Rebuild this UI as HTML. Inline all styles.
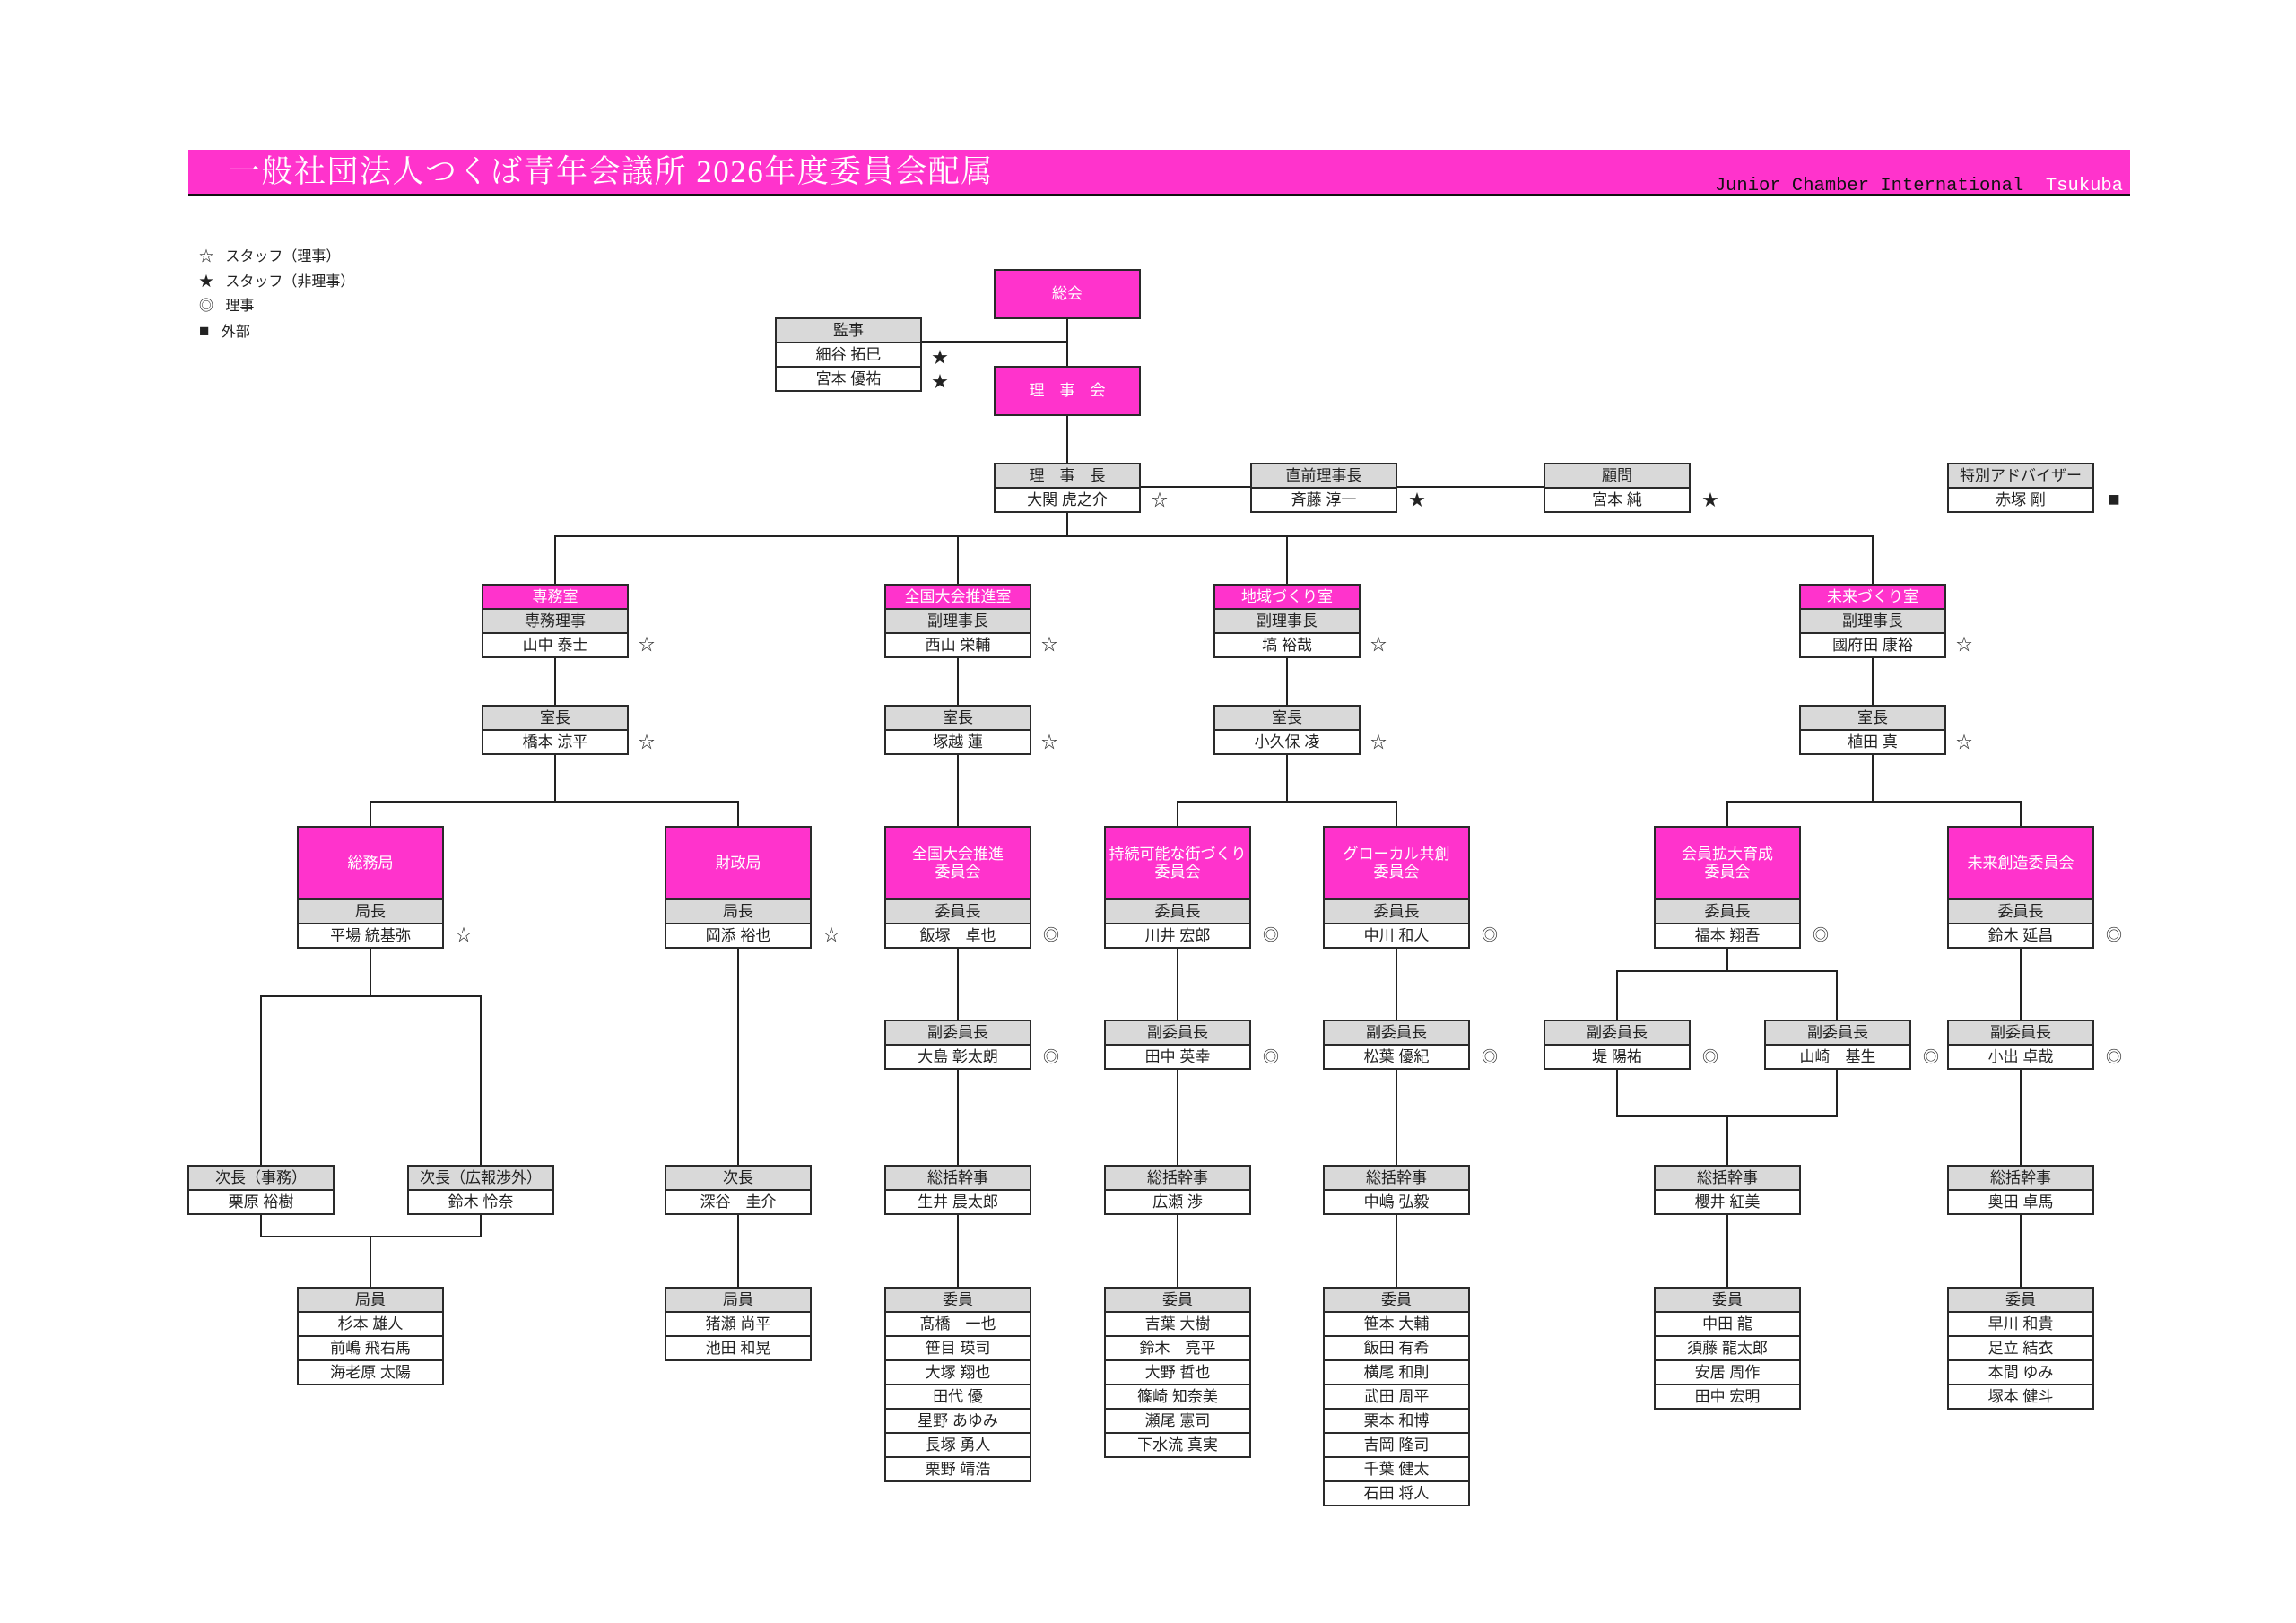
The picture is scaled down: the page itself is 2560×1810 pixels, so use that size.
<!DOCTYPE html>
<html><head><meta charset="utf-8">
<style>
body{margin:0;width:2560px;height:1810px;background:#fff;position:relative;overflow:hidden;font-family:"Liberation Sans","Noto Sans CJK JP",sans-serif;}
.l{position:absolute;background:#222;}
.b{position:absolute;width:164px;box-sizing:border-box;border:2px solid #2a2a2a;border-top:none;background:#fff;}
.r{height:27px;box-sizing:border-box;border-top:2px solid #2a2a2a;text-align:center;font-size:17px;line-height:25px;color:#222;white-space:nowrap;}
.g{background:#d9d9d9;}
.p{background:#ff33cc;color:#fff;}
.t{height:81px;display:flex;align-items:center;justify-content:center;line-height:20px;font-size:17px;}
.m{position:absolute;font-size:18px;line-height:20px;color:#222;width:22px;text-align:center;}
</style></head><body>
<div style="position:absolute;left:210px;top:167px;width:2165px;height:49px;background:#ff33cc;"></div>
<div style="position:absolute;left:210px;top:216px;width:2165px;height:3px;background:#111;"></div>
<div style="position:absolute;left:255px;top:169px;font-family:'Liberation Serif','Noto Serif CJK SC',serif;font-size:35px;line-height:46px;color:#fff;letter-spacing:1.5px;white-space:nowrap;">一般社団法人つくば青年会議所 2026年度委員会配属</div>
<div style="position:absolute;right:193px;top:194px;font-family:'Liberation Mono',monospace;font-size:20.5px;line-height:28px;color:#111;white-space:pre;">Junior Chamber International  <span style="color:#fff">Tsukuba</span></div>
<div style="position:absolute;left:222px;top:273px;font-size:16px;line-height:27.5px;color:#222;white-space:pre;">☆   スタッフ（理事）
★   スタッフ（非理事）
◎   理事
<span style="font-size:19px">■</span>   外部</div>

<div class="l" style="left:1189px;top:354px;width:2px;height:54px"></div>
<div class="l" style="left:1189px;top:462px;width:2px;height:54px"></div>
<div class="l" style="left:1189px;top:570px;width:2px;height:28px"></div>
<div class="l" style="left:1028px;top:380px;width:162px;height:2px"></div>
<div class="l" style="left:1272px;top:542px;width:122px;height:2px"></div>
<div class="l" style="left:1558px;top:542px;width:163px;height:2px"></div>
<div class="l" style="left:618px;top:597px;width:1472px;height:2px"></div>
<div class="l" style="left:618px;top:597px;width:2px;height:54px"></div>
<div class="l" style="left:1067px;top:597px;width:2px;height:54px"></div>
<div class="l" style="left:1434px;top:597px;width:2px;height:54px"></div>
<div class="l" style="left:2087px;top:597px;width:2px;height:54px"></div>
<div class="l" style="left:618px;top:733px;width:2px;height:53px"></div>
<div class="l" style="left:1067px;top:733px;width:2px;height:53px"></div>
<div class="l" style="left:1434px;top:733px;width:2px;height:53px"></div>
<div class="l" style="left:2087px;top:733px;width:2px;height:53px"></div>
<div class="l" style="left:618px;top:841px;width:2px;height:54px"></div>
<div class="l" style="left:412px;top:893px;width:412px;height:2px"></div>
<div class="l" style="left:412px;top:893px;width:2px;height:28px"></div>
<div class="l" style="left:822px;top:893px;width:2px;height:28px"></div>
<div class="l" style="left:1067px;top:841px;width:2px;height:80px"></div>
<div class="l" style="left:1434px;top:841px;width:2px;height:54px"></div>
<div class="l" style="left:1312px;top:893px;width:246px;height:2px"></div>
<div class="l" style="left:1312px;top:893px;width:2px;height:28px"></div>
<div class="l" style="left:1556px;top:893px;width:2px;height:28px"></div>
<div class="l" style="left:2087px;top:841px;width:2px;height:54px"></div>
<div class="l" style="left:1925px;top:893px;width:328px;height:2px"></div>
<div class="l" style="left:1925px;top:893px;width:2px;height:28px"></div>
<div class="l" style="left:2252px;top:893px;width:2px;height:28px"></div>
<div class="l" style="left:412px;top:1056px;width:2px;height:56px"></div>
<div class="l" style="left:290px;top:1110px;width:247px;height:2px"></div>
<div class="l" style="left:290px;top:1110px;width:2px;height:189px"></div>
<div class="l" style="left:535px;top:1110px;width:2px;height:189px"></div>
<div class="l" style="left:290px;top:1354px;width:2px;height:26px"></div>
<div class="l" style="left:535px;top:1354px;width:2px;height:26px"></div>
<div class="l" style="left:290px;top:1378px;width:247px;height:2px"></div>
<div class="l" style="left:412px;top:1378px;width:2px;height:57px"></div>
<div class="l" style="left:822px;top:1056px;width:2px;height:379px"></div>
<div class="l" style="left:1067px;top:1056px;width:2px;height:379px"></div>
<div class="l" style="left:1312px;top:1056px;width:2px;height:379px"></div>
<div class="l" style="left:1556px;top:1056px;width:2px;height:379px"></div>
<div class="l" style="left:2252px;top:1056px;width:2px;height:379px"></div>
<div class="l" style="left:1925px;top:1056px;width:2px;height:28px"></div>
<div class="l" style="left:1802px;top:1082px;width:247px;height:2px"></div>
<div class="l" style="left:1802px;top:1082px;width:2px;height:55px"></div>
<div class="l" style="left:2047px;top:1082px;width:2px;height:55px"></div>
<div class="l" style="left:1802px;top:1191px;width:2px;height:55px"></div>
<div class="l" style="left:2047px;top:1191px;width:2px;height:55px"></div>
<div class="l" style="left:1802px;top:1244px;width:247px;height:2px"></div>
<div class="l" style="left:1925px;top:1244px;width:2px;height:191px"></div>

<div class="b" style="left:1108px;top:300px;"><div class="r p" style="height:54px;line-height:52px">総会</div></div>
<div class="b" style="left:1108px;top:408px;"><div class="r p" style="height:54px;line-height:52px">理　事　会</div></div>
<div class="b" style="left:864px;top:354px;"><div class="r g">監事</div><div class="r">細谷 拓巳</div><div class="r">宮本 優祐</div></div>
<div class="m" style="left:1037px;top:389px">★</div><div class="m" style="left:1037px;top:416px">★</div>
<div class="b" style="left:1108px;top:516px;"><div class="r g">理　事　長</div><div class="r">大関 虎之介</div></div><div class="m" style="left:1282px;top:548px">☆</div>
<div class="b" style="left:1394px;top:516px;"><div class="r g">直前理事長</div><div class="r">斉藤 淳一</div></div><div class="m" style="left:1569px;top:548px">★</div>
<div class="b" style="left:1721px;top:516px;"><div class="r g">顧問</div><div class="r">宮本 純</div></div><div class="m" style="left:1896px;top:548px">★</div>
<div class="b" style="left:2171px;top:516px;"><div class="r g">特別アドバイザー</div><div class="r">赤塚 剛</div></div><div class="m" style="left:2346px;top:547px;font-size:22px">■</div>

<div class="b" style="left:537px;top:651px;"><div class="r p">専務室</div><div class="r g">専務理事</div><div class="r">山中 泰士</div></div><div class="m" style="left:710px;top:709px">☆</div>
<div class="b" style="left:986px;top:651px;"><div class="r p">全国大会推進室</div><div class="r g">副理事長</div><div class="r">西山 栄輔</div></div><div class="m" style="left:1159px;top:709px">☆</div>
<div class="b" style="left:1353px;top:651px;"><div class="r p">地域づくり室</div><div class="r g">副理事長</div><div class="r">塙 裕哉</div></div><div class="m" style="left:1526px;top:709px">☆</div>
<div class="b" style="left:2006px;top:651px;"><div class="r p">未来づくり室</div><div class="r g">副理事長</div><div class="r">國府田 康裕</div></div><div class="m" style="left:2179px;top:709px">☆</div>
<div class="b" style="left:537px;top:786px;"><div class="r g">室長</div><div class="r">橋本 涼平</div></div><div class="m" style="left:710px;top:818px">☆</div>
<div class="b" style="left:986px;top:786px;"><div class="r g">室長</div><div class="r">塚越 蓮</div></div><div class="m" style="left:1159px;top:818px">☆</div>
<div class="b" style="left:1353px;top:786px;"><div class="r g">室長</div><div class="r">小久保 凌</div></div><div class="m" style="left:1526px;top:818px">☆</div>
<div class="b" style="left:2006px;top:786px;"><div class="r g">室長</div><div class="r">植田 真</div></div><div class="m" style="left:2179px;top:818px">☆</div>

<div class="b" style="left:331px;top:921px;"><div class="r p t">総務局</div><div class="r g">局長</div><div class="r">平場 統基弥</div></div><div class="m" style="left:506px;top:1033px">☆</div>
<div class="b" style="left:741px;top:921px;"><div class="r p t">財政局</div><div class="r g">局長</div><div class="r">岡添 裕也</div></div><div class="m" style="left:916px;top:1033px">☆</div>
<div class="b" style="left:986px;top:921px;"><div class="r p t">全国大会推進<br>委員会</div><div class="r g">委員長</div><div class="r">飯塚　卓也</div></div><div class="m" style="left:1161px;top:1033px">◎</div>
<div class="b" style="left:1231px;top:921px;"><div class="r p t">持続可能な街づくり<br>委員会</div><div class="r g">委員長</div><div class="r">川井 宏郎</div></div><div class="m" style="left:1406px;top:1033px">◎</div>
<div class="b" style="left:1475px;top:921px;"><div class="r p t">グローカル共創<br>委員会</div><div class="r g">委員長</div><div class="r">中川 和人</div></div><div class="m" style="left:1650px;top:1033px">◎</div>
<div class="b" style="left:1844px;top:921px;"><div class="r p t">会員拡大育成<br>委員会</div><div class="r g">委員長</div><div class="r">福本 翔吾</div></div><div class="m" style="left:2019px;top:1033px">◎</div>
<div class="b" style="left:2171px;top:921px;"><div class="r p t">未来創造委員会</div><div class="r g">委員長</div><div class="r">鈴木 延昌</div></div><div class="m" style="left:2346px;top:1033px">◎</div>

<div class="b" style="left:986px;top:1137px;"><div class="r g">副委員長</div><div class="r">大島 彰太朗</div></div><div class="m" style="left:1161px;top:1169px">◎</div>
<div class="b" style="left:1231px;top:1137px;"><div class="r g">副委員長</div><div class="r">田中 英幸</div></div><div class="m" style="left:1406px;top:1169px">◎</div>
<div class="b" style="left:1475px;top:1137px;"><div class="r g">副委員長</div><div class="r">松葉 優紀</div></div><div class="m" style="left:1650px;top:1169px">◎</div>
<div class="b" style="left:1721px;top:1137px;"><div class="r g">副委員長</div><div class="r">堤 陽祐</div></div><div class="m" style="left:1896px;top:1169px">◎</div>
<div class="b" style="left:1967px;top:1137px;"><div class="r g">副委員長</div><div class="r">山崎　基生</div></div><div class="m" style="left:2142px;top:1169px">◎</div>
<div class="b" style="left:2171px;top:1137px;"><div class="r g">副委員長</div><div class="r">小出 卓哉</div></div><div class="m" style="left:2346px;top:1169px">◎</div>

<div class="b" style="left:209px;top:1299px;"><div class="r g">次長（事務）</div><div class="r">栗原 裕樹</div></div>
<div class="b" style="left:454px;top:1299px;"><div class="r g">次長（広報渉外）</div><div class="r">鈴木 怜奈</div></div>
<div class="b" style="left:741px;top:1299px;"><div class="r g">次長</div><div class="r">深谷　圭介</div></div>
<div class="b" style="left:986px;top:1299px;"><div class="r g">総括幹事</div><div class="r">生井 晨太郎</div></div>
<div class="b" style="left:1231px;top:1299px;"><div class="r g">総括幹事</div><div class="r">広瀬 渉</div></div>
<div class="b" style="left:1475px;top:1299px;"><div class="r g">総括幹事</div><div class="r">中嶋 弘毅</div></div>
<div class="b" style="left:1844px;top:1299px;"><div class="r g">総括幹事</div><div class="r">櫻井 紅美</div></div>
<div class="b" style="left:2171px;top:1299px;"><div class="r g">総括幹事</div><div class="r">奥田 卓馬</div></div>

<div class="b" style="left:331px;top:1435px;"><div class="r g">局員</div><div class="r">杉本 雄人</div><div class="r">前嶋 飛右馬</div><div class="r">海老原 太陽</div></div>
<div class="b" style="left:741px;top:1435px;"><div class="r g">局員</div><div class="r">猪瀬 尚平</div><div class="r">池田 和晃</div></div>
<div class="b" style="left:986px;top:1435px;"><div class="r g">委員</div><div class="r">髙橋　一也</div><div class="r">笹目 瑛司</div><div class="r">大塚 翔也</div><div class="r">田代 優</div><div class="r">星野 あゆみ</div><div class="r">長塚 勇人</div><div class="r">栗野 靖浩</div></div>
<div class="b" style="left:1231px;top:1435px;"><div class="r g">委員</div><div class="r">吉葉 大樹</div><div class="r">鈴木　亮平</div><div class="r">大野 哲也</div><div class="r">篠崎 知奈美</div><div class="r">瀬尾 憲司</div><div class="r">下水流 真実</div></div>
<div class="b" style="left:1475px;top:1435px;"><div class="r g">委員</div><div class="r">笹本 大輔</div><div class="r">飯田 有希</div><div class="r">横尾 和則</div><div class="r">武田 周平</div><div class="r">栗本 和博</div><div class="r">吉岡 隆司</div><div class="r">千葉 健太</div><div class="r">石田 将人</div></div>
<div class="b" style="left:1844px;top:1435px;"><div class="r g">委員</div><div class="r">中田 龍</div><div class="r">須藤 龍太郎</div><div class="r">安居 周作</div><div class="r">田中 宏明</div></div>
<div class="b" style="left:2171px;top:1435px;"><div class="r g">委員</div><div class="r">早川 和貴</div><div class="r">足立 結衣</div><div class="r">本間 ゆみ</div><div class="r">塚本 健斗</div></div>
</body></html>
